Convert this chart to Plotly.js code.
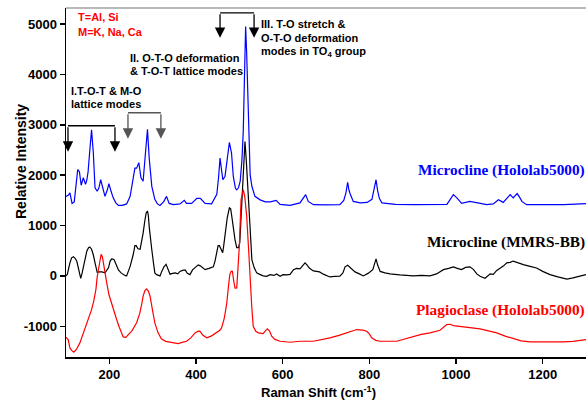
<!DOCTYPE html>
<html>
<head>
<meta charset="utf-8">
<script src="https://cdn.plot.ly/plotly-3.0.1.min.js"></script>
<style>html,body{margin:0;padding:0;background:#fff;}#chart{width:586px;height:405px;}</style>
</head>
<body>
<div id="chart"></div>
<script>
// Microcline (Hololab5000)
var blueX = [100,105,109,114,119,123,127,131,135,140,145,148,151,155,159,163,167,172,176,180,185,190,195,199,204,209,215,221,230,240,248,254,259,263,268,273,278,283,288,292,298,305,311,317,326,332,338,348,363,373,378,390,402,410,421,436,448,452,455.5,459,462,467,472,477,482,486,491,494,498,502,506,509,512,514.5,517,521,525,529,536,548,560,571,585,594,617,640,647,653,659,671,700,732,741,746,750,753,757,763,779,795,806,811,815.5,819,823,829,860,902,940,979,986,994,1002,1013,1032,1048,1071,1086,1098,1109,1118,1125,1132,1141,1147,1152,1163,1200,1250,1300];
var blueY = [1580,1600,1650,1440,1470,1800,2110,2070,1800,1950,1820,1900,2070,2500,2900,2450,1750,1680,1750,1910,1710,1580,1700,1830,1680,1550,1450,1400,1400,1430,1580,1900,2140,2140,2250,1950,1880,2400,2910,2340,1780,1520,1430,1400,1480,1580,1440,1415,1430,1500,1440,1440,1540,1540,1440,1430,1620,1950,2340,2100,1910,1980,2300,2650,2440,1980,1740,1710,1750,1880,2300,2850,4000,4950,4400,2900,2000,1780,1580,1510,1470,1470,1500,1420,1400,1450,1530,1615,1480,1415,1410,1415,1500,1650,1860,1700,1600,1480,1450,1460,1520,1700,1910,1700,1540,1450,1420,1415,1420,1420,1510,1615,1550,1440,1480,1450,1415,1430,1514,1460,1560,1615,1550,1635,1560,1480,1415,1410,1415,1435];

// Microcline (MMRS-BB)
var blackX = [100,103,109,113,117,121,125,130,134,137,140,144,148,152,155,159,163,167,172,177,183,190,194,198,202,206,211,216,221,227,232,237,240,244,248,255,259,262,266,271,275,278,282,285,288,290,292,295,298,302,305,309,313,317,321,326,331,335,340,346,352,358,363,369,375,380,386,392,400,405,410,416,421,430,436,440,444,448,451,454,458,461.6,464,467,472,477,480,482,486,490,494,498,501,504,507,510,513,516,519,521,524,526.5,529,534,540,547,555,563,571,580,586,594,601,610,617,625,632,640,647,651.6,656,662,671,685,695,709,720,732,739,744,750,755,759,767,777,786,797,808,812,815.5,819,825,836,848,870,901.6,920,940,955,971,983,994,1003,1013,1022,1032,1040,1048,1055.5,1067,1079,1086,1094,1102,1110,1117,1125,1132,1143,1155.5,1171,1186,1200,1217,1235,1256,1270,1286,1300];
var blackY = [0,30,260,360,380,350,290,120,-50,50,190,350,490,560,575,530,420,260,70,80,80,60,100,160,300,340,320,220,120,60,25,5,0,90,190,420,600,600,540,530,700,850,1100,1250,1290,1200,980,700,520,250,60,25,5,0,90,180,230,130,35,50,60,40,90,110,120,50,25,120,190,220,200,150,125,150,160,180,300,520,600,600,520,460,600,850,1150,1350,1330,1220,950,720,560,560,660,1120,1600,2300,2670,2300,1800,1450,900,490,320,170,60,30,0,-7,25,10,40,-7,25,20,30,125,150,140,220,260,220,150,100,80,30,-20,-10,-7,60,180,210,170,125,80,40,0,50,125,240,340,220,90,60,40,20,0,10,0,40,125,150,180,150,125,170,180,130,40,-7,-45,40,30,110,150,200,260,270,295,260,225,190,158,90,26,-20,-65,-40,-7,26];

// Plagioclase (Hololab5000)
var redX = [100,105,109,113,118,124,132,139,145.5,152,159,164,169,172,175,178,181,184,188,191,194,199,205.5,211,217,223,228,232,238,244,252,263,270,275,278,282,286,290,294,299,305,312,320,330,340,350,359,368,378,388,398,404,409,416,425,436,448,455,459,465,469,471,475,478,481,484,487,490,494,497,500,504,507,509,512.5,517,521,524.6,528.6,532,538,544,550,555,561,565,570,574.7,582,594,617,640,671,690,709,730,748,760,771,785,794,800,805.5,815,825,863,880,901.6,920,940,963,978.7,986,994,1017,1040,1055.5,1075,1094,1115,1132,1150,1171,1209,1248,1270,1300];
var redY = [-1220,-1264,-1430,-1480,-1515,-1460,-1330,-1170,-1000,-860,-670,-500,-272,-20,160,350,430,380,150,0,-140,-370,-570,-720,-870,-1020,-1150,-1210,-1220,-1165,-1090,-930,-750,-550,-400,-290,-258,-300,-404,-650,-933,-1120,-1250,-1300,-1317,-1330,-1343,-1320,-1297,-1230,-1131,-1100,-1098,-1180,-1230,-1190,-1131,-1080,-1032,-850,-650,-536,-200,26,92,92,-100,-240,-238,200,588,1514,1650,1712,1580,1183,588,-139,-603,-1000,-1098,-1131,-1140,-1145,-1080,-1052,-1100,-1198,-1260,-1297,-1317,-1297,-1297,-1270,-1230,-1180,-1131,-1090,-1065,-1075,-1098,-1150,-1230,-1280,-1297,-1297,-1260,-1198,-1160,-1131,-1078,-966,-960,-987,-1012,-1030,-1052,-1090,-1131,-1200,-1250,-1290,-1310,-1317,-1310,-1300,-1264];

var seriesNames = ['Microcline (Hololab5000)', 'Microcline (MMRS-BB)', 'Plagioclase (Hololab5000)'];
var seriesColors = ['#0000ff', '#000000', '#ff0000'];
var xTicks = [200, 400, 600, 800, 1000, 1200];
var yTicks = [-1000, 0, 1000, 2000, 3000, 4000, 5000];

var SANS = 'Liberation Sans, Arial, sans-serif';
var SERIF = 'Liberation Serif, Times New Roman, serif';

var traces = [
  {x: blueX, y: blueY, name: seriesNames[0], mode: 'lines', line: {color: seriesColors[0], width: 1.2}},
  {x: blackX, y: blackY, name: seriesNames[1], mode: 'lines', line: {color: seriesColors[1], width: 1.2}},
  {x: redX, y: redY, name: seriesNames[2], mode: 'lines', line: {color: seriesColors[2], width: 1.2}}
];

function px2x(p){ return (p - 66) / 520; }
function py2y(p){ return (357 - p) / 349; }

function txt(t, px, py, color, size, family, xanchor){
  return {text: t, xref: 'paper', yref: 'paper', x: px2x(px), y: py2y(py),
    xanchor: xanchor || 'left', yanchor: 'middle', showarrow: false,
    font: {family: family || SANS, size: size || 11, color: color || '#000', weight: 'bold'}};
}
function arrow(x, ytop, ytip, color){
  return {x: x, y: ytip, ax: x, ay: ytop, xref: 'x', yref: 'y', axref: 'x', ayref: 'y',
    text: '', showarrow: true, arrowhead: 2, arrowsize: 1.6, arrowwidth: 1.3, arrowcolor: color, standoff: 0};
}
function hline(x0, x1, y, color){
  return {type: 'line', xref: 'x', yref: 'y', x0: x0, x1: x1, y0: y, y1: y, line: {color: color, width: 1.3}};
}

var annotations = [
  txt('T=Al, Si', 76, 17, '#ff0000'),
  txt('M=K, Na, Ca', 76, 32, '#ff0000'),
  txt('I.T-O-T &amp; M-O', 69, 91),
  txt('lattice modes', 69, 104),
  txt('II. O-T-O deformation', 128, 58),
  txt('&amp; T-O-T lattice modes', 128, 71),
  txt('III. T-O stretch &amp;', 259, 24),
  txt('O-T-O deformation', 259, 38),
  txt('modes in TO<sub>4</sub> group', 259, 52),
  txt(seriesNames[0], 587, 170, seriesColors[0], 15.3, SERIF, 'right'),
  txt(seriesNames[1], 587, 242, seriesColors[1], 15.3, SERIF, 'right'),
  txt(seriesNames[2], 587, 310, seriesColors[2], 15.3, SERIF, 'right'),
  {text: 'Relative Intensity', xref: 'paper', yref: 'paper', x: px2x(21), y: py2y(162), textangle: -90,
   xanchor: 'center', yanchor: 'middle', showarrow: false, font: {family: SANS, size: 14, color: '#000', weight: 'bold'}},
  {text: 'Raman Shift (cm<sup>-1</sup>)', xref: 'paper', yref: 'paper', x: px2x(318), y: py2y(392),
   xanchor: 'center', yanchor: 'middle', showarrow: false, font: {family: SANS, size: 13, color: '#000', weight: 'bold'}},
  arrow(104.6, 2982, 2466, '#000'),
  arrow(213, 2982, 2466, '#000'),
  arrow(243, 3240, 2724, '#555'),
  arrow(319, 3240, 2724, '#555'),
  arrow(455.5, 5224, 4728, '#000'),
  arrow(534, 5224, 4728, '#000')
];

var shapes = [
  hline(104.6, 213, 2982, '#000'),
  hline(243, 319, 3240, '#555'),
  hline(455.5, 534, 5224, '#000'),
  {type: 'line', xref: 'paper', yref: 'paper', x0: 0, x1: 1, y0: 1, y1: 1, line: {color: '#777', width: 1.2}}
];

var axisCommon = {
  showgrid: false, zeroline: false, showline: true, linecolor: '#000', linewidth: 1.5,
  ticks: 'outside', ticklen: 5, tickwidth: 1.5, tickcolor: '#000',
  tickfont: {family: SANS, size: 13, color: '#000', weight: 'bold'}
};

var layout = {
  width: 586, height: 405,
  margin: {l: 66, r: 0, t: 8, b: 48, pad: 0},
  paper_bgcolor: '#fff', plot_bgcolor: '#fff',
  showlegend: false,
  xaxis: Object.assign({}, axisCommon, {range: [100, 1300], tickvals: xTicks, ticktext: xTicks.map(String)}),
  yaxis: Object.assign({}, axisCommon, {range: [-1610, 5320], tickvals: yTicks, ticktext: yTicks.map(String)}),
  annotations: annotations,
  shapes: shapes
};

Plotly.newPlot('chart', traces, layout, {displayModeBar: false, staticPlot: true});
</script>
</body>
</html>
